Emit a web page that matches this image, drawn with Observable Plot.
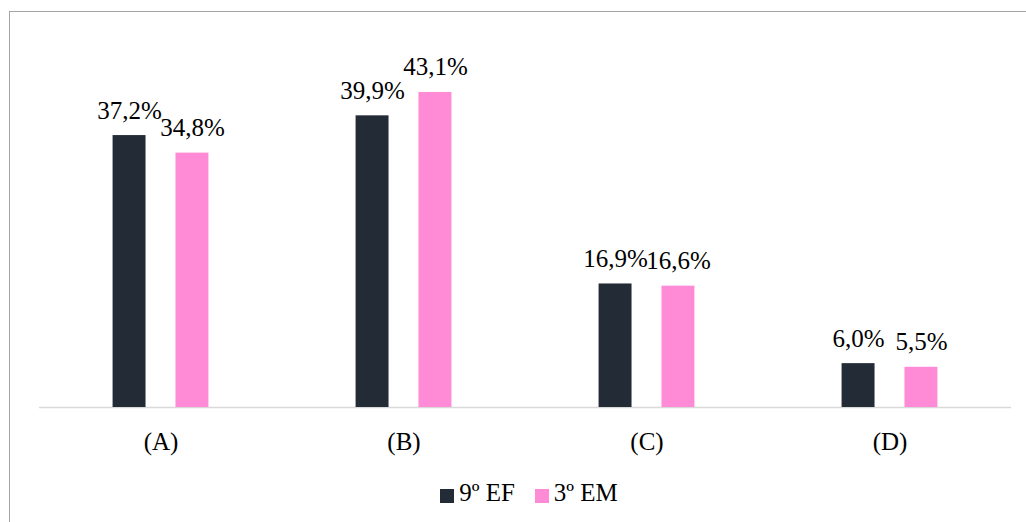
<!DOCTYPE html>
<html>
<head>
<meta charset="utf-8">
<script src="https://cdn.jsdelivr.net/npm/d3@7"></script>
<script src="https://cdn.jsdelivr.net/npm/@observablehq/plot@0.6"></script>
<style>
  html, body { margin: 0; padding: 0; background: #fff; overflow: hidden; }
  body { width: 1026px; height: 522px; position: relative; font-family: "Liberation Serif", "Times New Roman", serif; }
  #frame { position: absolute; left: 9px; top: 11px; width: 1100px; height: 600px; border: 1px solid #a3a3a3; box-sizing: border-box; }
  #chart { position: absolute; left: 0; top: 0; }
  #chart svg { display: block; }
  #legend { display: flex; justify-content: center; align-items: center; padding-left: 32px; width: 1026px; box-sizing: border-box; font-size: 25px; line-height: 25px; color: #000; }
  .item { display: flex; align-items: center; }
  .sw { width: 14px; height: 14px; margin-right: 5px; position: relative; top: 3px; }
  .item + .item { margin-left: 20px; }
</style>
</head>
<body>
<div id="frame"></div>
<div id="chart"></div>
<script>
const categories = ["(A)", "(B)", "(C)", "(D)"];
const series = ["9º EF", "3º EM"];
const ef9 = [37.2, 39.9, 16.9, 6.0];
const em3 = [34.8, 43.1, 16.6, 5.5];
const colors = ["#232b37", "#ff8ad6"];

const values = [ef9, em3];
const data = categories.flatMap((c, i) => series.map((s, j) => ({cat: c, s, v: values[j][i]})));
const fmt = v => v.toFixed(1).replace(".", ",") + "%";

const plot = Plot.plot({
  width: 1026,
  height: 480,
  marginLeft: 38,
  marginRight: 14,
  marginTop: 41.5,
  marginBottom: 73,
  fx: {domain: categories, padding: 0, label: null, axis: null},
  x: {domain: series, paddingInner: 0.476, paddingOuter: 1.17, axis: null, round: false},
  y: {domain: [0, 50], axis: null},
  color: {domain: series, range: colors},
  style: {fontFamily: "'Liberation Serif', 'Times New Roman', serif", fontSize: "25px", color: "#000", background: "transparent"},
  marks: [
    Plot.ruleY([0], {stroke: "#d9d9d9", strokeWidth: 1.5}),
    Plot.barY(data, {fx: "cat", x: "s", y: "v", fill: "s"}),
    Plot.text(data, {fx: "cat", x: "s", y: "v", text: d => fmt(d.v), lineAnchor: "bottom", dy: -17, fontSize: 25, fill: "#000"}),
    Plot.axisFx({anchor: "bottom", tickSize: 0, tickPadding: 24.5, fontSize: 25, label: null})
  ]
});
const chart = document.getElementById("chart");
chart.appendChild(plot);

const legend = document.createElement("div");
legend.id = "legend";
series.forEach((s, i) => {
  const item = document.createElement("div");
  item.className = "item";
  const sw = document.createElement("span");
  sw.className = "sw";
  sw.style.background = colors[i];
  const label = document.createElement("span");
  label.textContent = s;
  item.appendChild(sw);
  item.appendChild(label);
  legend.appendChild(item);
});
chart.appendChild(legend);
</script>
</body>
</html>
